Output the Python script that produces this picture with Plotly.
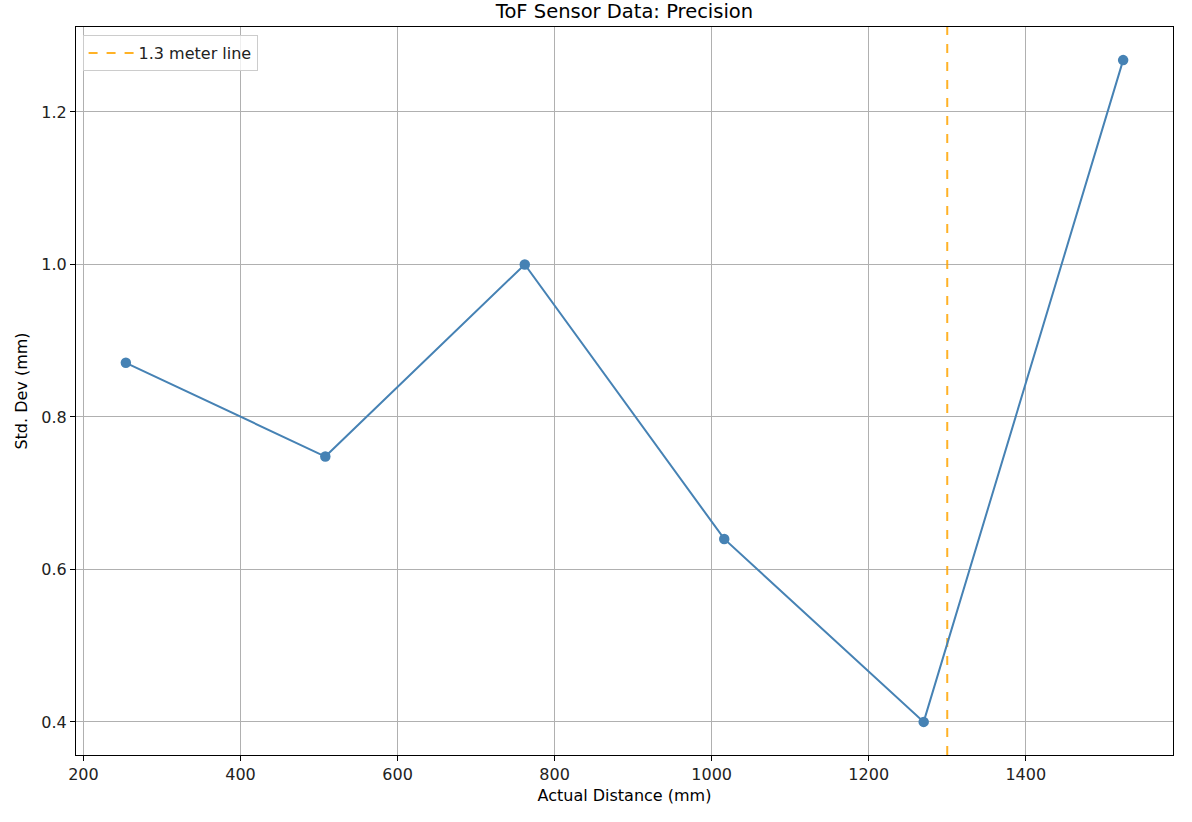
import plotly.graph_objects as go

distance_mm = [254, 508, 762, 1016, 1270, 1524]
std_dev_mm = [0.871, 0.748, 1.000, 0.640, 0.400, 1.268]
ref_line_x = 1300
ref_line_label = "1.3 meter line"
x_ticks = [200, 400, 600, 800, 1000, 1200, 1400]
y_ticks = [0.4, 0.6, 0.8, 1.0, 1.2]

font_family = "DejaVu Sans"

W, H = 1192, 822

y_range = [0.3566, 1.3114]

fig = go.Figure()

fig.add_trace(go.Scatter(
    x=[ref_line_x, ref_line_x], y=y_range,
    mode="lines",
    line=dict(color="rgba(255,165,0,0.85)", width=2, dash="dash"),
    name=ref_line_label,
    showlegend=True,
))

fig.add_trace(go.Scatter(
    x=distance_mm, y=std_dev_mm,
    mode="lines+markers",
    line=dict(color="steelblue", width=2),
    marker=dict(color="steelblue", size=10.5),
    showlegend=False,
    name="Std. Dev",
))

fig.update_layout(
    width=W, height=H,
    margin=dict(l=76, r=19, t=27, b=67),
    paper_bgcolor="white",
    plot_bgcolor="white",
    font=dict(family=font_family, size=16, color="black"),
    title=dict(
        text="ToF Sensor Data: Precision",
        x=0.5, xref="paper",
        y=1 - 11 / H, yref="container", yanchor="middle",
        font=dict(size=19.5, color="black"),
    ),
    legend=dict(
        x=0.006, y=0.989, xanchor="left", yanchor="top",
        bgcolor="rgba(255,255,255,0.8)",
        bordercolor="#cccccc", borderwidth=1,
        font=dict(size=16, color="#222222"),
        itemwidth=45,
    ),
    showlegend=True,
)

fig.update_xaxes(
    range=[190.5, 1587.5],
    tickvals=x_ticks,
    ticks="outside", ticklen=5, tickcolor="black", tickwidth=1,
    showgrid=True, gridcolor="#b0b0b0", gridwidth=1,
    showline=True, linecolor="black", linewidth=1, mirror=True,
    zeroline=False,
    title=dict(text="Actual Distance (mm)", standoff=6, font=dict(size=16)),
    tickfont=dict(size=16, color="#222222"),
)
fig.update_yaxes(
    range=y_range,
    tickvals=y_ticks,
    tickformat=".1f",
    ticks="outside", ticklen=5, tickcolor="black", tickwidth=1,
    showgrid=True, gridcolor="#b0b0b0", gridwidth=1,
    showline=True, linecolor="black", linewidth=1, mirror=True,
    zeroline=False,
    title=dict(text="Std. Dev (mm)", standoff=9, font=dict(size=16)),
    tickfont=dict(size=16, color="#222222"),
)

fig.write_html(
    "out.html",
    config={"displayModeBar": False},
    post_script="document.body.style.margin='0px';",
)
